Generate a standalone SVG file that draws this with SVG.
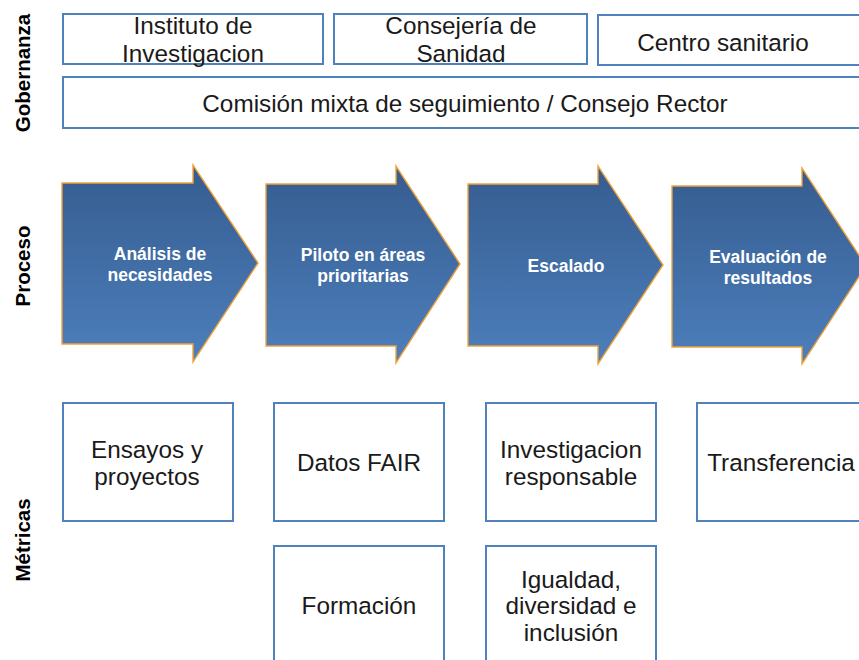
<svg xmlns="http://www.w3.org/2000/svg" width="859" height="660" viewBox="0 0 859 660">
<style>
.box{fill:#ffffff;stroke:#4f81bd;stroke-width:2}
.t{font-family:"Liberation Sans",Arial,Helvetica,sans-serif;font-size:24.3px;fill:#1a1a1a;text-anchor:middle}
.at{font-family:"Liberation Sans",Arial,Helvetica,sans-serif;font-size:17.5px;font-weight:bold;fill:#ffffff;text-anchor:middle}
.lab{font-family:"Liberation Sans",Arial,Helvetica,sans-serif;font-size:20.5px;font-weight:bold;fill:#000000;text-anchor:middle}
.arr{fill:url(#g);stroke:#eea23a;stroke-width:1.4;stroke-linejoin:miter}
</style>
<defs>
<linearGradient id="g" x1="0" y1="0" x2="0" y2="1">
<stop offset="0" stop-color="#355c8f"/>
<stop offset="1" stop-color="#4d7fbc"/>
</linearGradient>
</defs>
<rect width="859" height="660" fill="#ffffff"/>

<g id="labels">
<text class="lab" transform="translate(30,73) rotate(-90)">Gobernanza</text>
<text class="lab" transform="translate(30,266) rotate(-90)">Proceso</text>
<text class="lab" transform="translate(30,540) rotate(-90)">Métricas</text>
</g>

<g id="gov-instituto">
<rect class="box" x="63" y="14" width="260" height="50"/>
<text class="t" x="193" y="34">Instituto de</text>
<text class="t" x="193" y="62">Investigacion</text>
</g>
<g id="gov-consejeria">
<rect class="box" x="334" y="14" width="253" height="50"/>
<text class="t" x="461" y="34">Consejería de</text>
<text class="t" x="461" y="62">Sanidad</text>
</g>
<g id="gov-centro">
<rect class="box" x="598" y="15" width="270" height="50"/>
<text class="t" x="723" y="51">Centro sanitario</text>
</g>
<g id="gov-comision">
<rect class="box" x="63" y="77" width="805" height="51"/>
<text class="t" x="465" y="112">Comisión mixta de seguimiento / Consejo Rector</text>
</g>

<g id="proc-analisis">
<polygon class="arr" points="62,183 193,183 193,165 258,263 193,362 193,344 62,344"/>
<text class="at" x="160" y="260">Análisis de</text>
<text class="at" x="160" y="281">necesidades</text>
</g>
<g id="proc-piloto">
<polygon class="arr" points="266,184 396,184 396,166 460,264 396,363 396,346 266,346"/>
<text class="at" x="363" y="261">Piloto en áreas</text>
<text class="at" x="363" y="282">prioritarias</text>
</g>
<g id="proc-escalado">
<polygon class="arr" points="468,184 598,184 598,166 663,265 598,364 598,346 468,346"/>
<text class="at" x="566" y="272">Escalado</text>
</g>
<g id="proc-evaluacion">
<polygon class="arr" points="672,186 802,186 802,168 866,266 802,364 802,347 672,347"/>
<text class="at" x="768" y="263">Evaluación de</text>
<text class="at" x="768" y="284">resultados</text>
</g>

<g id="met-ensayos">
<rect class="box" x="63" y="403" width="170" height="118"/>
<text class="t" x="147" y="458">Ensayos y</text>
<text class="t" x="147" y="485">proyectos</text>
</g>
<g id="met-datos">
<rect class="box" x="274" y="403" width="170" height="118"/>
<text class="t" x="359" y="471">Datos FAIR</text>
</g>
<g id="met-investigacion">
<rect class="box" x="486" y="403" width="170" height="118"/>
<text class="t" x="571" y="458">Investigacion</text>
<text class="t" x="571" y="485">responsable</text>
</g>
<g id="met-transferencia">
<rect class="box" x="697" y="403" width="180" height="118"/>
<text class="t" x="781" y="471">Transferencia</text>
</g>
<g id="met-formacion">
<rect class="box" x="274" y="546" width="170" height="130"/>
<text class="t" x="359" y="614">Formación</text>
</g>
<g id="met-igualdad">
<rect class="box" x="486" y="546" width="170" height="130"/>
<text class="t" x="571" y="588">Igualdad,</text>
<text class="t" x="571" y="614">diversidad e</text>
<text class="t" x="571" y="641">inclusión</text>
</g>

<g id="connectors"></g>
</svg>
